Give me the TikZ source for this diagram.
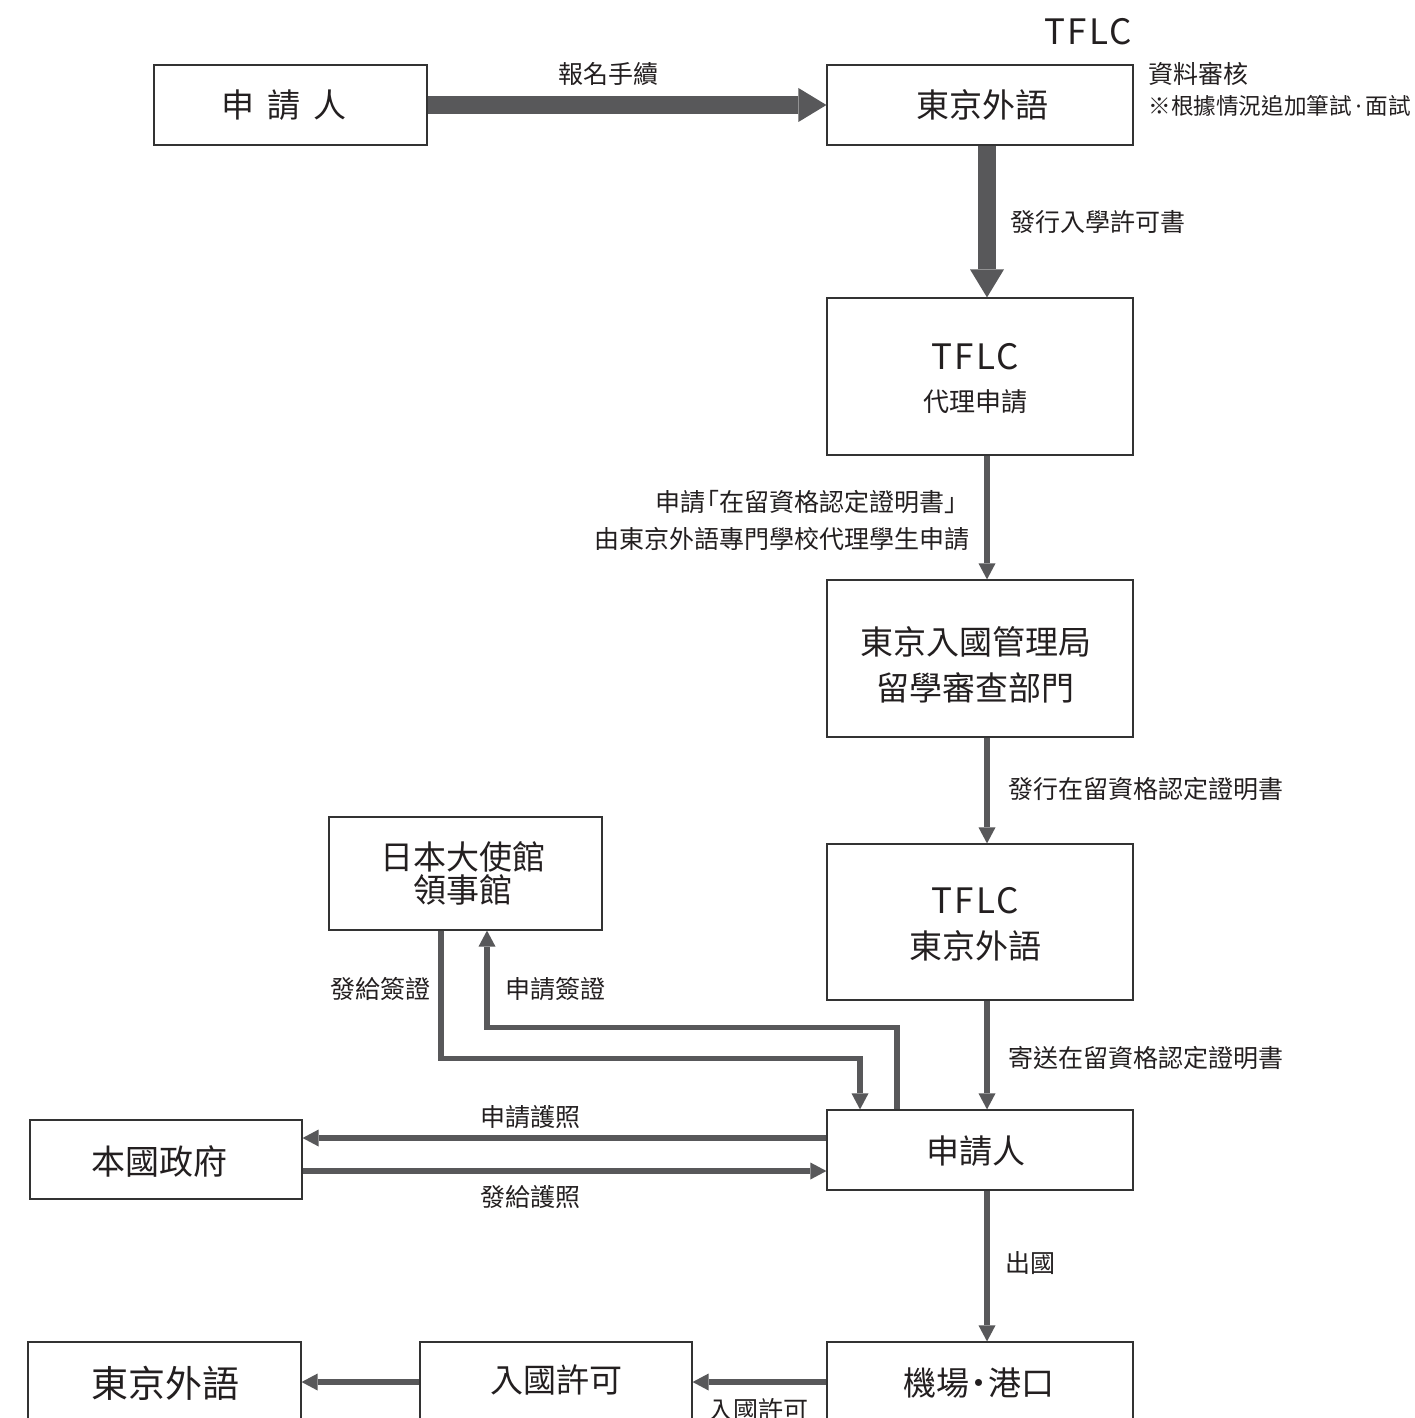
\documentclass[tikz,border=0pt]{standalone}
\usepackage{fontspec}
\setmainfont{Noto Sans CJK TC}
\newfontfamily\tflcfont[LetterSpace=7]{Noto Sans CJK TC}
\newfontfamily\latinfont{Noto Sans}
\usetikzlibrary{arrows.meta,shadows}
\definecolor{arr}{RGB}{88,88,90}
\definecolor{ink}{RGB}{35,31,32}
\tikzset{
  box/.style={draw=black!80, line width=0.6pt, fill=white,
    drop shadow={shadow xshift=0.6pt, shadow yshift=-0.7pt, fill=black!65, opacity=1},
    inner sep=0pt},
  btext/.style={inner sep=0pt, text=ink, font=\fontsize{16.5}{20}\selectfont},
  stext/.style={inner sep=0pt, text=ink, font=\fontsize{13}{16}\selectfont},
  ttext/.style={inner sep=0pt, text=ink, font=\tflcfont\fontsize{17.5}{20}\selectfont},
  lbl/.style={inner sep=0pt, text=ink, font=\fontsize{12.5}{15}\selectfont},
  thickarr/.style={draw=arr, line width=9pt, -{Triangle[length=14pt,width=17pt,line width=0pt]}},
  thinarr/.style={draw=arr, line width=2.7pt, -{Triangle[length=8pt,width=8.5pt,line width=0pt]}},
}
\begin{document}
\begin{tikzpicture}[x=0.5pt,y=-0.5pt]
\clip (0,0) rectangle (1414,1418);
\fill[white] (0,0) rectangle (1414,1418);

% boxes
\node[box, minimum width=136.5pt, minimum height=40pt] (A) at (290.5,105) {};
\node[btext] (At) at (284,105) {申\hspace{0.4em}請\hspace{0.4em}人};
\node[box, minimum width=153pt, minimum height=40pt] (B) at (980,105) {};
\node[btext] (Bt) at (982,105) {東京外語};
\node[box, minimum width=153pt, minimum height=78.5pt] (C) at (980,376.5) {};
\node[ttext] (Ct1) at (975,357) {TFLC};
\node[stext] (Ct2) at (975,402) {代理申請};
\node[box, minimum width=153pt, minimum height=78.5pt] (D) at (980,658.5) {};
\node[btext] (Dt1) at (975.5,642) {東京入國管理局};
\node[btext] (Dt2) at (975.5,688) {留學審查部門};
\node[box, minimum width=153pt, minimum height=78pt] (E) at (980,922) {};
\node[ttext] (Et1) at (975,901) {TFLC};
\node[btext] (Et2) at (975,946) {東京外語};
\node[box, minimum width=153pt, minimum height=40pt] (F) at (980,1150) {};
\node[btext] (Ft) at (975.5,1151) {申請人};
\node[box, minimum width=136.5pt, minimum height=56.5pt] (G) at (465.5,873.5) {};
\node[btext] (Gt1) at (463,857) {日本大使館};
\node[btext] (Gt2) at (463,890) {領事館};
\node[box, minimum width=136pt, minimum height=39.5pt] (H) at (166,1159.5) {};
\node[btext, font=\fontsize{17}{20}\selectfont] (Ht) at (159,1161) {本國政府};
\node[box, minimum width=153pt, minimum height=40pt] (I) at (980,1382) {};
\node[btext] (It) at (979,1383) {機場\hspace{-0.2em}・\hspace{-0.2em}港口};
\node[box, minimum width=136pt, minimum height=40pt] (J) at (556,1382) {};
\node[btext] (Jt) at (556,1380) {入國許可};
\node[box, minimum width=136.5pt, minimum height=40pt] (K) at (164.5,1382) {};
\node[btext, font=\fontsize{18.5}{22}\selectfont] (Kt) at (165,1383) {東京外語};

% free texts
\node[ttext] (tflc) at (1088,32) {TFLC};
\node[lbl, anchor=west] (n1) at (1148,74) {資料審核};
\node[lbl, anchor=west, font=\fontsize{11.3}{15}\selectfont] (n2) at (1148,106) {※根據情況追加筆試{\latinfont\,·\,}面試};

% thick arrows
\draw[thickarr] (A.east) -- (B.west);
\node[lbl] (l1) at (608,74) {報名手續};
\draw[thickarr] ([xshift=3.5pt]B.south) -- ([xshift=3.5pt]C.north);
\node[lbl, anchor=west] (l2) at (1010,222) {發行入學許可書};

% vertical thin arrows
\draw[thinarr] ([xshift=3.5pt]C.south) -- ([xshift=3.5pt]D.north);
\node[lbl, anchor=east] (l3) at (970,502) {申請\hspace{-0.45em}「在留資格認定證明書」\hspace{-0.45em}};
\node[lbl, anchor=east] (l4) at (970,539) {由東京外語專門學校代理學生申請};
\draw[thinarr] ([xshift=3.5pt]D.south) -- ([xshift=3.5pt]E.north);
\node[lbl, anchor=west] (l5) at (1008,789) {發行在留資格認定證明書};
\draw[thinarr] ([xshift=3.5pt]E.south) -- ([xshift=3.5pt]F.north);
\node[lbl, anchor=west] (l6) at (1008,1058) {寄送在留資格認定證明書};
\draw[thinarr] ([xshift=3.5pt]F.south) -- ([xshift=3.5pt]I.north);
\node[lbl, anchor=west] (l7) at (1005,1263) {出國};

% visa
\draw[thinarr] ([xshift=-41.5pt]F.north) -- ++(0,-82) -| ([xshift=10.75pt]G.south);
\node[lbl] (l8) at (555,989) {申請簽證};
\draw[thinarr] ([xshift=-12.25pt]G.south) -- ++(0,128) -| ([xshift=-60pt]F.north);
\node[lbl] (l9) at (380,989) {發給簽證};

% passport
\draw[thinarr] ([yshift=6pt]F.west) -- ([yshift=6pt]F.west -| H.east);
\node[lbl] (l10) at (530,1117) {申請護照};
\draw[thinarr] ([yshift=-5.75pt]H.east) -- ([yshift=-5.75pt]H.east -| F.west);
\node[lbl] (l11) at (530,1197) {發給護照};

% bottom
\draw[thinarr] (I.west) -- (J.east);
\node[lbl] (l12) at (758,1410) {入國許可};
\draw[thinarr] (J.west) -- (K.east);
\end{tikzpicture}
\end{document}
